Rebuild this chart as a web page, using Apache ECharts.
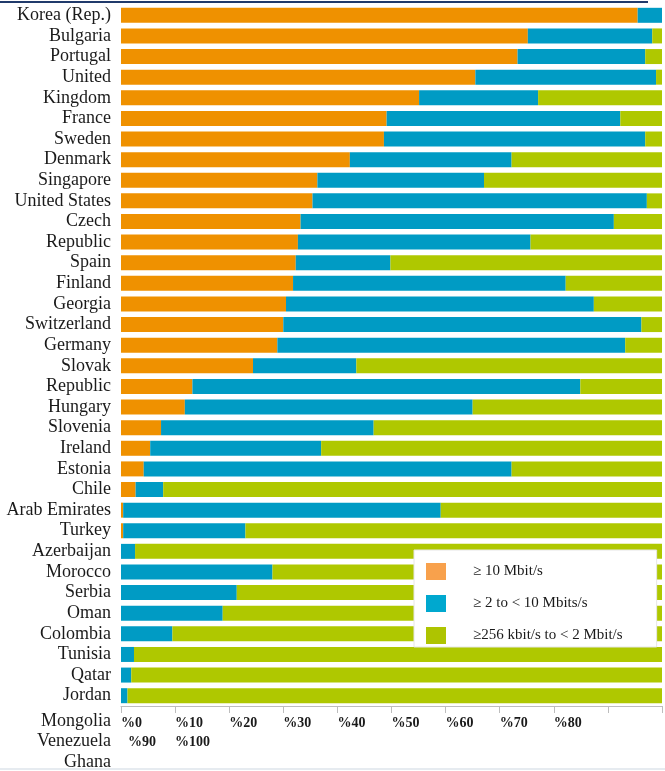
<!DOCTYPE html>
<html>
<head>
<meta charset="utf-8">
<script src="https://cdn.jsdelivr.net/npm/echarts@6/dist/echarts.min.js"></script>
<style>
  html, body { margin: 0; padding: 0; background: #fff; }
  #main { width: 665px; height: 771px; }
</style>
</head>
<body>
<div id="main"></div>
<script>
// categories as printed on the left, top to bottom
var countries = ['Korea (Rep.)', 'Bulgaria', 'Portugal', 'United', 'Kingdom', 'France', 'Sweden',
    'Denmark', 'Singapore', 'United States', 'Czech', 'Republic', 'Spain', 'Finland', 'Georgia',
    'Switzerland', 'Germany', 'Slovak', 'Republic', 'Hungary', 'Slovenia', 'Ireland', 'Estonia',
    'Chile', 'Arab Emirates', 'Turkey', 'Azerbaijan', 'Morocco', 'Serbia', 'Oman', 'Colombia',
    'Tunisia', 'Qatar', 'Jordan'];
// labels left over below the last bar
var extraLabels = ['Mongolia', 'Venezuela', 'Ghana'];

// share of subscriptions (%)
var fast = [95.5, 75.2, 73.3, 65.5, 55.1, 49.1, 48.6, 42.3, 36.3, 35.4, 33.2, 32.7, 32.3, 31.8, 30.5,
    30.0, 28.9, 24.4, 13.2, 11.8, 7.4, 5.4, 4.2, 2.7, 0.4, 0.4, 0, 0, 0, 0, 0, 0, 0, 0];
var mid = [4.5, 23.0, 23.6, 33.4, 22.0, 43.2, 48.3, 29.9, 30.8, 61.8, 57.9, 43.0, 17.5, 50.4, 56.9,
    66.2, 64.3, 19.1, 71.7, 53.2, 39.3, 31.6, 68.0, 5.1, 58.7, 22.6, 2.6, 28.0, 21.4, 18.8, 9.5, 2.4, 1.9, 1.2];
var slow = [0, 1.8, 3.1, 1.1, 22.9, 7.7, 3.1, 27.8, 32.9, 2.8, 8.9, 24.3, 50.2, 17.8, 12.6,
    3.8, 6.8, 56.5, 15.1, 35.0, 53.3, 63.0, 27.8, 92.2, 40.9, 77.0, 97.4, 72.0, 78.6, 81.2, 90.5, 97.6, 98.1, 98.8];

var seriesNames = ['≥ 10 Mbit/s', '≥ 2 to < 10 Mbits/s', '≥256 kbit/s to < 2 Mbit/s'];
// x tick labels; the last two wrap onto a second line under the first two
var tickLabels = ['%0', '%10', '%20', '%30', '%40', '%50', '%60', '%70', '%80', '%90', '%100'];

var barColors = ['#ef9100', '#009bc4', '#afc800'];
var legendColors = ['#f8a14c', '#00a8cf', '#aec400'];

var serif = "'Liberation Serif', 'Times New Roman', serif";

var myChart = echarts.init(document.getElementById('main'));

var option = {
    animation: false,
    grid: {
        left: 121,
        right: 3,
        top: 5,
        bottom: 65
    },
    legend: {
        orient: 'vertical',
        left: 414,
        top: 550,
        icon: 'rect',
        itemWidth: 20,
        itemHeight: 17,
        itemGap: 15,
        padding: [13, 34, 3, 12],
        backgroundColor: '#fff',
        borderColor: '#e6e6e6',
        borderWidth: 1,
        selectedMode: false,
        textStyle: {
            fontFamily: serif,
            fontSize: 15,
            color: '#1a1a1a',
            padding: [0, 0, 0, 22]
        },
        data: seriesNames.map(function (n, i) {
            return { name: n, itemStyle: { color: legendColors[i] } };
        })
    },
    xAxis: {
        type: 'value',
        min: 0,
        max: 100,
        interval: 10,
        splitLine: { show: false },
        axisLine: { show: true, lineStyle: { color: '#bdbdbd' } },
        axisTick: { show: true, length: 7, lineStyle: { color: '#bdbdbd' } },
        axisLabel: {
            showMaxLabel: true,
            showMinLabel: true,
            align: 'left',
            margin: 8,
            fontFamily: serif,
            fontSize: 14,
            fontWeight: 'bold',
            color: '#1a1a1a',
            lineHeight: 19,
            formatter: function (v) {
                var i = Math.round(v / 10);
                if (i === 0) return '{a|' + tickLabels[0] + '}\n{b|' + tickLabels[9] + '}';
                if (i === 1) return '{a|' + tickLabels[1] + '}\n{a|' + tickLabels[10] + '}';
                if (i >= 9) return '';
                return tickLabels[i];
            },
            rich: {
                a: { fontFamily: serif, fontSize: 14, fontWeight: 'bold', color: '#1a1a1a', lineHeight: 19 },
                b: { fontFamily: serif, fontSize: 14, fontWeight: 'bold', color: '#1a1a1a', lineHeight: 19, padding: [0, 0, 0, 7] }
            }
        }
    },
    yAxis: {
        type: 'category',
        inverse: true,
        data: countries,
        axisLine: { show: false },
        axisTick: { show: false },
        axisLabel: {
            interval: 0,
            margin: 10,
            fontFamily: serif,
            fontSize: 18,
            color: '#1a1a1a'
        }
    },
    graphic: [
        {
            type: 'line',
            shape: { x1: 0, y1: 2, x2: 648, y2: 2 },
            style: { stroke: '#203a6b', lineWidth: 2 }
        },
        {
            type: 'line',
            shape: { x1: 0, y1: 769, x2: 665, y2: 769 },
            style: { stroke: '#e6ebf0', lineWidth: 2 }
        }
    ].concat(extraLabels.map(function (t, i) {
        return {
            type: 'text',
            style: {
                text: t,
                x: 111,
                y: 721 + i * 20.5,
                align: 'right',
                verticalAlign: 'middle',
                fontFamily: serif,
                fontSize: 18,
                fill: '#1a1a1a'
            }
        };
    })),
    series: [fast, mid, slow].map(function (d, i) {
        return {
            name: seriesNames[i],
            type: 'bar',
            stack: 'total',
            barWidth: 15,
            itemStyle: { color: barColors[i] },
            data: d
        };
    })
};

myChart.setOption(option);
</script>
</body>
</html>
